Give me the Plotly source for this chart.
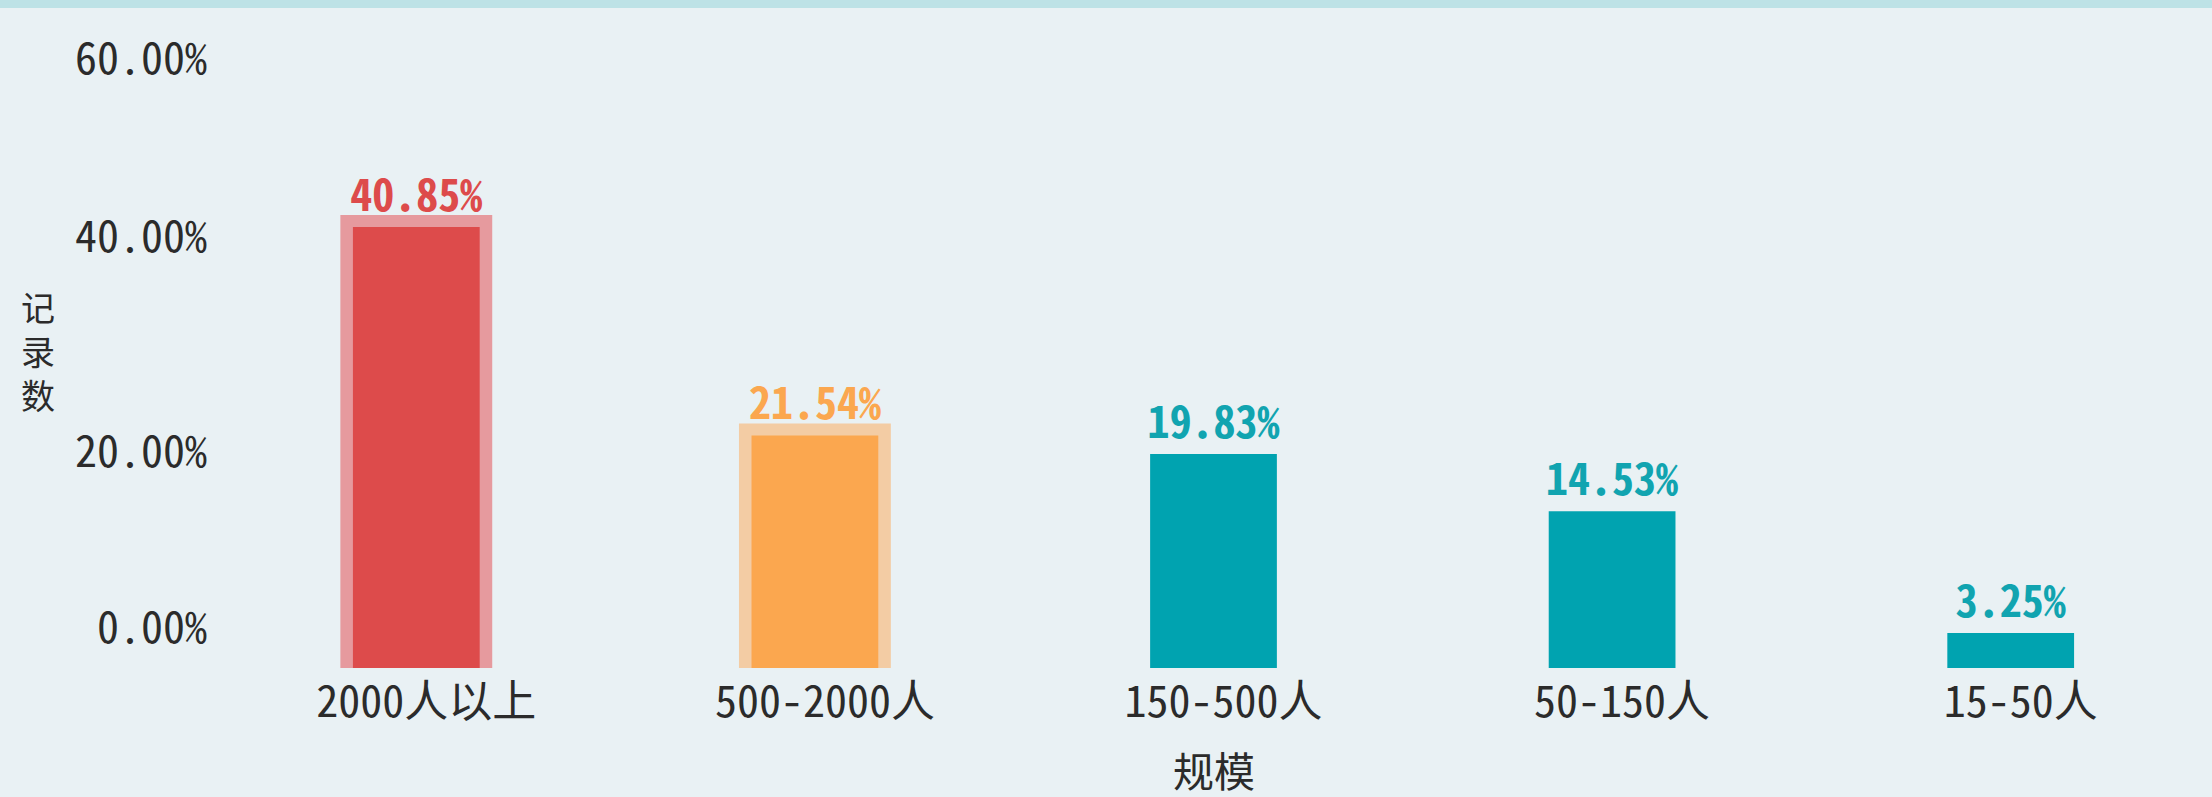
import plotly.graph_objects as go

categories = ["2000人以上", "500-2000人", "150-500人", "50-150人", "15-50人"]
values = [40.85, 21.54, 19.83, 14.53, 3.25]
value_labels = ["40.85%", "21.54%", "19.83%", "14.53%", "3.25%"]
bar_colors = ["#dd4b4b", "#fba74f", "#00a3b0", "#00a3b0", "#00a3b0"]
halo_colors = ["#e69a9e", "#f3cca4", "rgba(0,0,0,0)", "rgba(0,0,0,0)", "rgba(0,0,0,0)"]
label_colors = ["#dd4b4b", "#fba74f", "#11a4b0", "#11a4b0", "#11a4b0"]
y_tick_vals = [0, 20, 40, 60]
y_tick_text = ["0.00%", "20.00%", "40.00%", "60.00%"]
y_title = "记<br>录<br>数"
x_title = "规模"

W, H = 2212, 797
ML, MR, MT, MB = 217, 2, 20, 129
plot_h = H - MT - MB
y_range = [0, 60.02]
halo_px = 12
halo_pad = halo_px * (y_range[1] - y_range[0]) / plot_h

NUM_FONT = "Noto Sans Mono CJK SC, Liberation Mono, Noto Sans CJK SC, sans-serif"
CJK_FONT = "Noto Sans CJK SC, sans-serif"
BG = "#e9f1f4"
TXT = "#2b2b2b"

fig = go.Figure()
fig.add_trace(go.Bar(
    x=categories, y=[v + halo_pad for v in values], width=0.381,
    marker=dict(color=halo_colors, line=dict(width=0)),
    hoverinfo="skip", showlegend=False,
))
fig.add_trace(go.Bar(
    x=categories, y=values, width=0.318,
    marker=dict(color=bar_colors, line=dict(width=0)),
    text=value_labels, textposition="outside", cliponaxis=False,
    constraintext="none",
    textfont=dict(family=NUM_FONT, size=44, color=label_colors, weight="bold"),
    showlegend=False,
))
# empty helper traces so the edge-label axes are drawn
fig.add_trace(go.Scatter(x=[], y=[], yaxis="y2", showlegend=False, hoverinfo="skip"))
fig.add_trace(go.Scatter(x=[], y=[], yaxis="y3", showlegend=False, hoverinfo="skip"))

annotations = [
    dict(text=y_title, xref="paper", yref="paper", x=0, y=1,
         xshift=38 - ML, yshift=MT - 350,
         showarrow=False, xanchor="center", yanchor="middle",
         font=dict(family=CJK_FONT, size=34, color=TXT)),
    dict(text=x_title, xref="paper", yref="paper", x=0.5, y=0,
         yshift=-(769 - (H - MB)),
         showarrow=False, xanchor="center", yanchor="middle",
         font=dict(family=CJK_FONT, size=41, color=TXT)),
]

ytick_common = dict(range=y_range, automargin=False, showgrid=False, zeroline=False,
                    showline=False, ticks="", side="left",
                    tickfont=dict(family=NUM_FONT, size=44, color=TXT),
                    ticklabelstandoff=9, ticklabeloverflow="allow")

fig.update_layout(
    width=W, height=H, barmode="overlay",
    margin=dict(l=ML, r=MR, t=MT, b=MB, pad=0, autoexpand=False),
    paper_bgcolor=BG, plot_bgcolor=BG,
    annotations=annotations,
    shapes=[dict(type="rect", xref="paper", yref="paper",
                 x0=-0.2, x1=1.2, ysizemode="pixel", yanchor=1, y0=MT - 8, y1=MT + 4,
                 fillcolor="#bde2e6", line=dict(width=0), layer="above")],
    xaxis=dict(type="category", range=[-0.5, 4.5], automargin=False,
               showgrid=False, zeroline=False, showline=False,
               ticks="", tickfont=dict(family=NUM_FONT, size=44, color=TXT),
               ticklabelstandoff=4, ticklabelshift=10),
    # middle labels sit on their values; min/max labels are aligned inward (as in the source chart)
    yaxis=dict(tickvals=y_tick_vals[1:-1], ticktext=y_tick_text[1:-1], **ytick_common),
    yaxis2=dict(overlaying="y", tickvals=y_tick_vals[:1], ticktext=y_tick_text[:1],
                ticklabelshift=-40, **ytick_common),
    yaxis3=dict(overlaying="y", tickvals=y_tick_vals[-1:], ticktext=y_tick_text[-1:],
                ticklabelshift=38, **ytick_common),
)

fig.write_html("out.html", config={"displayModeBar": False},
               post_script="document.body.style.margin='0';document.body.style.background='%s';" % BG)
